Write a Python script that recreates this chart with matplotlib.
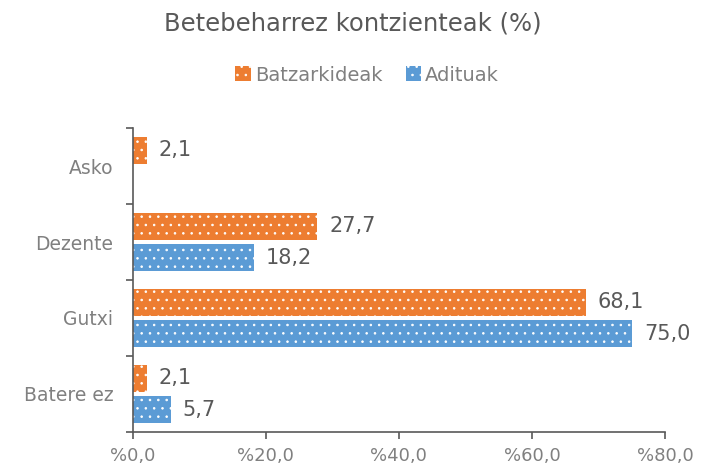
import numpy as np
import matplotlib.pyplot as plt
from matplotlib.ticker import FuncFormatter

categories = ["Asko", "Dezente", "Gutxi", "Batere ez"]
batzarkideak = [2.1, 27.7, 68.1, 2.1]
adituak = [0.0, 18.2, 75.0, 5.7]
series_names = ["Batzarkideak", "Adituak"]

orange = "#ED7D31"
blue = "#5B9BD5"
grey = "#595959"

plt.rcParams["hatch.linewidth"] = 0.6

fig = plt.figure(figsize=(7.06, 4.69), dpi=100)
ax = fig.add_axes([0.188, 0.079, 0.754, 0.648])

y = np.arange(len(categories))
h = 0.36
off = 0.205
b1 = ax.barh(y - off, batzarkideak, height=h, color=orange, hatch="..", edgecolor="white", linewidth=0, label=series_names[0])
b2 = ax.barh(y + off, adituak, height=h, color=blue, hatch="..", edgecolor="white", linewidth=0, label=series_names[1])

for bars, vals in ((b1, batzarkideak), (b2, adituak)):
    for bar, v in zip(bars, vals):
        if v == 0:
            continue
        ax.text(v + 1.8, bar.get_y() + bar.get_height() / 2, f"{v:.1f}".replace(".", ","),
                va="center", ha="left", fontsize=15, color=grey)

ax.set_ylim(len(categories) - 0.5, -0.5)
ax.set_xlim(0, 80)
ax.set_yticks(y)
ax.set_yticklabels(categories)
ax.set_yticks(np.arange(-0.5, len(categories)), minor=True)
ax.tick_params(axis="y", which="major", length=0, labelsize=13.5, labelcolor="#808080", pad=14)
ax.tick_params(axis="y", which="minor", length=5, color=grey, width=1.2)
ax.set_xticks([0, 20, 40, 60, 80])
ax.xaxis.set_major_formatter(FuncFormatter(lambda v, p: "%" + f"{v:.1f}".replace(".", ",")))
ax.tick_params(axis="x", length=5, color=grey, width=1.2, labelsize=13, labelcolor="#808080", pad=6)

for s in ("top", "right"):
    ax.spines[s].set_visible(False)
for s in ("left", "bottom"):
    ax.spines[s].set_color(grey)
    ax.spines[s].set_linewidth(1.2)

fig.suptitle("Betebeharrez kontzienteak (%)", y=0.975, fontsize=17.5, color=grey)
fig.legend(handles=[b1, b2], loc="center", bbox_to_anchor=(0.52, 0.84), ncol=2, frameon=False,
           fontsize=14, labelcolor="#808080", handlelength=0.8, handleheight=0.8,
           handletextpad=0.2, columnspacing=1.2)

fig.savefig("out.png", dpi=100)
